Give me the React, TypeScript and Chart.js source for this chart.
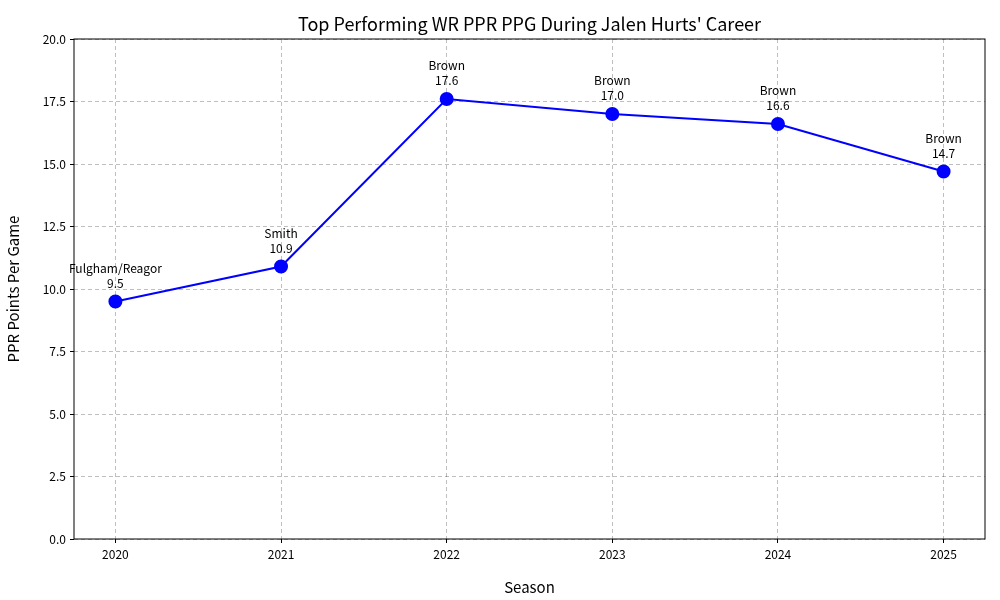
import React, { useEffect, useRef } from "react";
import { Chart, registerables } from "chart.js";
Chart.register(...registerables);

const seasons = [2020, 2021, 2022, 2023, 2024, 2025];
const ppg = [9.5, 10.9, 17.6, 17.0, 16.6, 14.7];
const players = ["Fulgham/Reagor", "Smith", "Brown", "Brown", "Brown", "Brown"];
const yTicks = [0, 2.5, 5, 7.5, 10, 12.5, 15, 17.5, 20];
const FONT = "'Noto Sans CJK JP', 'Noto Sans', sans-serif";

export default function App() {
  const ref = useRef<HTMLCanvasElement>(null);
  useEffect(() => {
    document.body.style.margin = "0";
    const plugin = {
      id: "extras",
      afterDatasetsDraw(chart: any) {
        const { ctx, chartArea: a } = chart;
        ctx.save();
        ctx.strokeStyle = "#000";
        ctx.lineWidth = 1;
        ctx.strokeRect(a.left, a.top, a.right - a.left, a.bottom - a.top);
        ctx.fillStyle = "#000";
        ctx.textAlign = "center";
        ctx.font = `18px ${FONT}`;
        ctx.fillText("Top Performing WR PPR PPG During Jalen Hurts' Career", (a.left + a.right) / 2, 31);
        ctx.font = `12px ${FONT}`;
        const meta = chart.getDatasetMeta(0);
        meta.data.forEach((p: any, i: number) => {
          ctx.fillText(players[i], p.x, p.y - 29);
          ctx.fillText(ppg[i].toFixed(1), p.x, p.y - 14);
        });
        ctx.restore();
      },
    };
    const chart = new Chart(ref.current!, {
      type: "line",
      data: {
        datasets: [{
          data: seasons.map((s, i) => ({ x: s, y: ppg[i] })),
          borderColor: "#0000ff",
          backgroundColor: "#0000ff",
          borderWidth: 2,
          pointRadius: 6,
          pointHoverRadius: 6,
          tension: 0,
        }],
      },
      options: {
        animation: false,
        responsive: false,
        layout: { padding: { top: 39, right: 15, left: 0, bottom: 0 } },
        plugins: { legend: { display: false }, tooltip: { enabled: false } },
        scales: {
          x: {
            type: "linear", min: 2019.75, max: 2025.25,
            afterBuildTicks: (s: any) => { s.ticks = seasons.map((v) => ({ value: v })); },
            afterFit: (s: any) => { s.height = 61; },
            ticks: { color: "#000", font: { family: FONT, size: 12 }, callback: (v: any) => String(v), padding: 4 },
            grid: { color: "rgba(0,0,0,0.25)", tickColor: "#000", tickLength: 4, drawTicks: true },
            border: { dash: [4, 3], display: false },
            title: { display: true, text: "Season", color: "#000", font: { family: FONT, size: 15 }, padding: { top: 4 } },
          },
          y: {
            min: 0, max: 20,
            afterBuildTicks: (s: any) => { s.ticks = yTicks.map((v) => ({ value: v })); },
            afterFit: (s: any) => { s.width = 74; },
            ticks: { color: "#000", font: { family: FONT, size: 12 }, callback: (v: any) => Number(v).toFixed(1), padding: 4 },
            grid: { color: "rgba(0,0,0,0.25)", tickColor: "#000", tickLength: 4 },
            border: { dash: [4, 3], display: false },
            title: { display: true, text: "PPR Points Per Game", color: "#000", font: { family: FONT, size: 15 } },
          },
        },
      },
      plugins: [plugin],
    } as any);
    return () => chart.destroy();
  }, []);
  return <canvas ref={ref} width={1000} height={600} style={{ display: "block" }} />;
}
